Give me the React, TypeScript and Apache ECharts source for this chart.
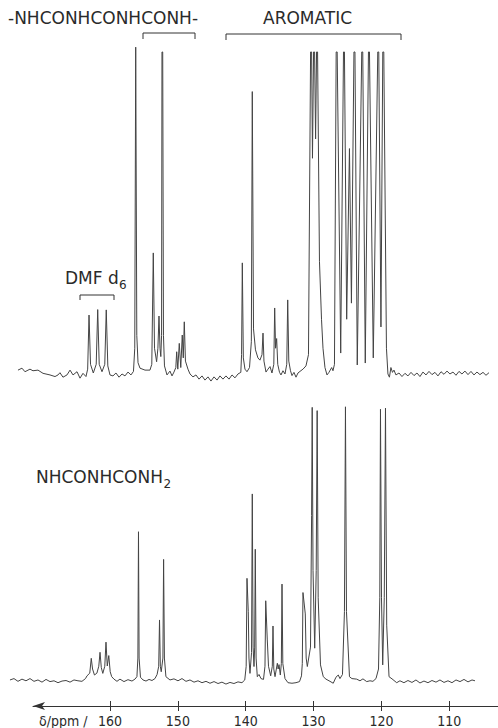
import React, { useEffect, useRef } from "react";
import * as echarts from "echarts";

// chemical shift (ppm) vs. relative intensity (% of full scale, clipped at 100)
const topTrace: [number, number][] = [
  [173.56, 1.2], [172.97, 1.8], [172.53, 0.7], [171.79, 1.5], [171.35, 1.0], [170.61, 1.2],
  [169.87, 0.2], [168.84, -0.3], [168.1, -0.8], [167.66, -0.3], [167.37, 0.4], [166.93, -1.0],
  [166.34, -0.3], [165.89, 1.2], [165.45, -0.3], [164.86, 0.7], [164.42, -1.3], [163.98, 0.2],
  [163.54, -0.8], [163.29, 1.5], [163.09, 18.3], [162.87, 3], [162.46, 0.3], [162.03, 3],
  [161.81, 20], [161.59, 3], [161.18, 0.7], [160.77, 3], [160.55, 19.9], [160.32, 2.5],
  [160.0, -0.3], [159.56, -0.6], [159.12, 0.3], [158.67, -1.0], [158.23, 0], [157.79, -0.6],
  [157.35, 0.6], [156.91, -0.3], [156.54, 0.8], [156.35, 8], [156.21, 101.5], [156.05, 12],
  [155.87, 3.5], [155.58, 1.8], [154.84, 1.2], [154.11, 1.2], [153.84, 3], [153.62, 37.6],
  [153.44, 8], [153.13, 3.8], [152.94, 8], [152.78, 18], [152.63, 8], [152.51, 5.4],
  [152.4, 12], [152.34, 100], [152.23, 100], [152.12, 12], [151.97, 2.5], [151.6, -0.3],
  [151.16, 0.9], [150.86, -0.6], [150.57, 0.6], [150.3, 2], [150.17, 6.9], [150.01, 1.5],
  [149.79, 9.5], [149.57, 2], [149.35, 12.1], [149.2, 5], [149.05, 16.2], [148.88, 4],
  [148.51, 1.5], [148.21, 0], [147.77, -0.9], [147.33, -0.3], [146.88, -1.6], [146.44, -0.6],
  [146.0, -1.9], [145.56, -0.9], [145.12, -2.2], [144.67, -0.9], [144.23, -1.9], [143.79, -0.6],
  [143.35, -1.6], [142.91, -0.6], [142.46, -1.6], [142.02, -0.3], [141.58, -1.2], [141.14, 0],
  [140.72, 0.5], [140.61, 6], [140.5, 34.5], [140.35, 5], [140.11, 1.5], [139.81, 0.7],
  [139.44, 2], [139.17, 10], [139.03, 87.7], [138.85, 14], [138.56, 7.5], [138.2, 5],
  [137.9, 4.3], [137.6, 6], [137.45, 12.7], [137.31, 4], [137.01, 0.6], [136.72, 1.5],
  [136.42, 2.3], [136.13, 0.3], [135.86, 3], [135.73, 20.5], [135.6, 8], [135.44, 11],
  [135.28, 3], [135.02, 0.5], [134.8, -0.3], [134.51, 1], [134.21, 0], [133.95, 3],
  [133.81, 23], [133.65, 4], [133.4, 1], [133.18, -0.5], [132.89, 0.5], [132.59, -1],
  [132.3, 0.3], [132.0, 0.8], [131.56, 1.5], [131.12, 2.5], [130.75, 6], [130.44, 100],
  [130.29, 100], [130.16, 67], [130.0, 100], [129.85, 100], [129.7, 73], [129.56, 100],
  [129.41, 100], [129.13, 35], [128.83, 17], [128.61, 8], [128.32, 2], [128.02, -0.3],
  [127.73, 0.5], [127.33, 2], [127.14, 1], [126.92, 3], [126.67, 100], [126.52, 100],
  [126.0, 6.5], [125.59, 100], [125.45, 100], [125.12, 17], [124.71, 70], [124.42, 22],
  [124.05, 100], [123.9, 100], [123.56, 2.8], [122.9, 100], [122.75, 100], [122.38, 3.4],
  [121.91, 100], [121.76, 100], [121.2, 5], [120.54, 100], [120.39, 100], [120.07, 14.6],
  [119.8, 100], [119.65, 100], [119.26, 8], [119.04, 0], [118.82, -1], [118.6, 2],
  [118.37, 0.5], [118.15, 1.2], [117.86, -0.3], [117.41, 0.3], [116.97, -0.8], [116.53, 0.2],
  [116.09, -0.6], [115.64, 0.5], [115.2, -0.5], [114.76, 0.3], [114.32, -0.8], [113.88, 0.6],
  [113.43, -0.3], [112.99, 0.8], [112.55, -0.2], [112.11, 0.5], [111.67, -0.6], [111.22, 0.7],
  [110.78, -0.1], [110.34, 0.9], [109.9, 0], [109.45, 0.6], [109.01, -0.4], [108.57, 0.8],
  [108.13, 0], [107.69, 0.9], [107.24, -0.2], [106.8, 0.8], [106.36, -0.3], [105.92, 0.6],
  [105.48, -0.2], [105.03, 0.5], [104.59, -0.4], [104.15, 0.4],
];

const bottomTrace: [number, number][] = [
  [174.74, 0], [174.15, 0.5], [173.56, -0.5], [172.97, 0.3], [172.38, -0.3], [171.79, 0.5],
  [171.2, -0.5], [170.61, 0], [170.02, -0.8], [169.43, 0.2], [168.84, -0.6], [168.25, -0.3],
  [167.66, -1], [167.07, -0.4], [166.48, -0.2], [165.89, -0.8], [165.31, 0], [164.72, -0.3],
  [164.13, -0.5], [163.61, 0.5], [163.39, 1.5], [162.98, 2.5], [162.76, 7.9], [162.57, 4],
  [162.29, 1.8], [161.93, 2.5], [161.65, 5], [161.47, 10.1], [161.28, 4.5], [161.06, 2.4],
  [160.77, 5], [160.59, 13.8], [160.4, 5.1], [160.18, 8.9], [159.97, 3], [159.75, 1.2],
  [159.41, 0.3], [158.97, -0.5], [158.53, 0.3], [157.94, -0.6], [157.35, 0.1], [156.76, -0.4],
  [156.32, 0.3], [156.03, 1.2], [155.89, 8], [155.8, 54.1], [155.71, 8], [155.51, 1],
  [155.14, 0], [154.69, -0.4], [154.25, 0.2], [153.81, -0.2], [153.37, 0.5], [153.06, 2],
  [152.82, 5], [152.7, 21.9], [152.58, 5], [152.45, 3], [152.2, 8], [152.1, 44],
  [151.98, 8], [151.76, 1.2], [151.16, 0], [150.57, 0.4], [149.98, -0.3], [149.39, 0.5],
  [148.8, -0.5], [148.21, 0], [147.62, -0.8], [147.03, -0.3], [146.44, -1], [145.85, -0.5],
  [145.26, -1.2], [144.67, -0.6], [144.08, -1.3], [143.5, -0.8], [142.91, -1.5], [142.32, -0.9],
  [141.73, -1.3], [141.14, -0.7], [140.55, -1], [140.14, 0], [139.93, 5], [139.81, 37.1],
  [139.62, 24.9], [139.52, 8], [139.37, 2.4], [139.14, 10], [139.03, 67.9], [138.91, 12],
  [138.78, 4.9], [138.68, 12], [138.59, 47.7], [138.47, 8], [138.29, 1.2], [138.04, 2],
  [137.75, 0.5], [137.38, 0.2], [137.16, 5], [137.05, 28.9], [136.82, 14.6], [136.64, 5],
  [136.32, 1.5], [136.08, 5], [135.98, 19.7], [135.86, 4], [135.68, 1.2], [135.34, 6.1],
  [135.22, 4], [135.09, 5.6], [134.9, 1.8], [134.75, 6], [134.65, 35], [134.53, 6],
  [134.21, 0.5], [133.77, -1], [133.18, -1.2], [132.59, -1], [132.07, -0.6], [131.78, 1.5],
  [131.66, 6], [131.56, 31.9], [131.22, 24.1], [131.09, 8], [130.92, 4.9], [130.45, 12],
  [130.29, 60], [130.2, 99.5], [130.08, 40], [129.83, 11.6], [129.61, 40], [129.47, 98.3],
  [129.32, 30], [128.98, 5.5], [128.57, 1.2], [128.17, 0.3], [127.58, -0.5], [127.1, -1.2],
  [126.7, 1], [126.36, 1.8], [126.11, 0.5], [125.74, 2], [125.45, 25], [125.3, 99.7],
  [125.15, 25], [124.71, 1.2], [124.35, 0.5], [123.65, 0.3], [123.16, -0.3], [122.72, 0.4],
  [122.17, -0.6], [121.69, -0.3], [121.25, -0.5], [120.8, 0.5], [120.43, 4], [120.24, 30],
  [120.14, 98.8], [119.99, 30], [119.81, 5.5], [119.58, 30], [119.4, 99.2], [119.22, 20],
  [118.88, 1.2], [118.44, 0.4], [117.75, -1], [117.27, -0.3], [116.68, -1], [116.09, -0.2],
  [115.5, -0.9], [114.91, 0], [114.32, -1.1], [113.73, -0.4], [113.14, -1], [112.55, -0.2],
  [111.96, -0.8], [111.37, 0], [110.78, -0.9], [110.19, -0.3], [109.6, -1], [109.01, 0],
  [108.42, -0.6], [107.83, 0.2], [107.24, -0.7], [106.65, 0], [106.21, -0.3],
];

const ppmTicks = [110, 120, 130, 140, 150, 160];
// spectra span the full page width; the drawn ppm axis (arrow) starts a little to the right
const traceRange = { min: 102.82, max: 175.62 };
const axisRange = { min: 102.82, max: 171.35 };

const ink = "#2a2a2a";
const trace = "#444444";
const sansFont = "'DejaVu Sans', 'Noto Sans', sans-serif";
const narrowFont = "'DejaVu Sans Condensed', 'Liberation Sans Narrow', 'Roboto', sans-serif";

export default function App() {
  const ref = useRef<HTMLDivElement>(null);
  useEffect(() => {
    if (!ref.current) return;
    const chart = echarts.init(ref.current, null, { renderer: "svg" });
    const txt = (text: string, x: number, y: number, size = 17, font = sansFont) => ({
      type: "text",
      x,
      y,
      style: { text, fill: ink, font: `${size}px ${font}`, align: "left", verticalAlign: "middle" },
      silent: true,
    });
    const bracket = (x1: number, x2: number, y: number, leg: number) => ({
      type: "polyline",
      shape: { points: [[x1, y + leg], [x1, y], [x2, y], [x2, y + leg]] },
      style: { stroke: "#333", lineWidth: 1, fill: null },
      silent: true,
    });
    const tickCommon = { customValues: ppmTicks, lineStyle: { color: "#333", width: 1 } };
    const option: any = {
      animation: false,
      backgroundColor: "#ffffff",
      grid: [
        { left: 4, width: 494, top: 39.1, height: 354.2 },
        { left: 4, width: 494, top: 400.5, height: 295.9 },
        { left: 33, width: 465, top: 400.5, height: 295.9 },
      ],
      xAxis: [
        { gridIndex: 0, type: "value", inverse: true, ...traceRange, show: false },
        { gridIndex: 1, type: "value", inverse: true, ...traceRange, show: false },
        {
          gridIndex: 2,
          type: "value",
          inverse: true,
          ...axisRange,
          position: "bottom",
          offset: 10,
          axisLine: {
            show: true,
            onZero: false,
            lineStyle: { color: "#333", width: 1 },
            symbol: ["arrow", "none"],
            symbolSize: [6, 12],
          },
          axisTick: { show: true, length: 5, ...tickCommon },
          axisLabel: {
            show: true,
            customValues: ppmTicks,
            margin: 8,
            color: ink,
            fontSize: 14,
            fontFamily: narrowFont,
          },
          splitLine: { show: false },
        },
        {
          gridIndex: 2,
          type: "value",
          inverse: true,
          ...axisRange,
          position: "bottom",
          offset: 10,
          axisLine: { show: false, onZero: false },
          axisTick: { show: true, inside: true, length: 5, ...tickCommon },
          axisLabel: { show: false },
          splitLine: { show: false },
        },
      ],
      yAxis: [
        { gridIndex: 0, type: "value", min: -6, max: 104, show: false },
        { gridIndex: 1, type: "value", min: -6, max: 102, show: false },
        { gridIndex: 2, type: "value", min: -6, max: 102, show: false },
      ],
      series: [
        {
          type: "line",
          xAxisIndex: 0,
          yAxisIndex: 0,
          data: topTrace,
          symbol: "none",
          lineStyle: { color: trace, width: 1 },
        },
        {
          type: "line",
          xAxisIndex: 1,
          yAxisIndex: 1,
          data: bottomTrace,
          symbol: "none",
          lineStyle: { color: trace, width: 1 },
        },
      ],
      graphic: [
        txt("-NHCONHCONHCONH-", 8, 18),
        txt("AROMATIC", 263, 18),
        bracket(143, 195, 33, 6),
        bracket(226, 401, 34, 6),
        txt("DMF d", 65, 278),
        txt("6", 119, 285, 12),
        bracket(80, 114, 295, 5),
        txt("NHCONHCONH", 36, 477),
        txt("2", 163.5, 484, 12),
        txt("δ/ppm /", 39, 721, 14, narrowFont),
      ],
    };
    chart.setOption(option);
    return () => chart.dispose();
  }, []);
  return (
    <div
      ref={ref}
      style={{ position: "absolute", left: 0, top: 0, width: 498, height: 728, background: "#fff" }}
    />
  );
}
